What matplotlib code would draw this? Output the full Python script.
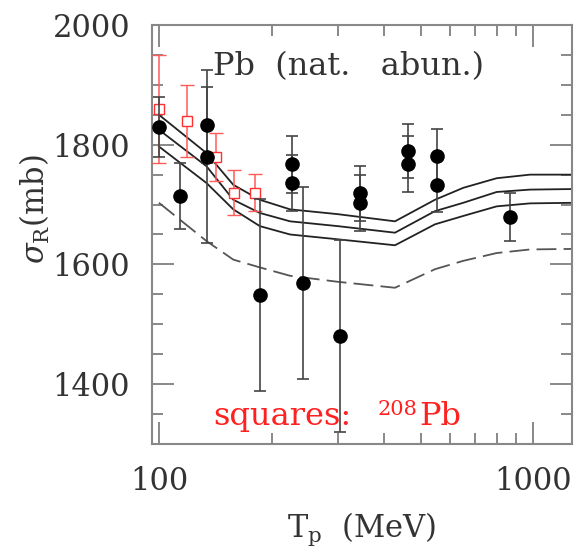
import matplotlib
matplotlib.use("Agg")
import matplotlib.pyplot as plt
from matplotlib.ticker import LogLocator, MultipleLocator, FuncFormatter, NullFormatter

# ── Data ───────────────────────────────────────────────────
# theory curves (solid band + dashed)
curve_x = [100, 134, 158, 186, 224, 300, 427, 546, 650, 798, 980, 1300]
curve_upper = [1850, 1786, 1733, 1708, 1692, 1684, 1672, 1708, 1728, 1744, 1750, 1750]
curve_mid = [1825, 1764, 1708, 1686, 1672, 1664, 1653, 1689, 1703, 1721, 1725, 1726]
curve_lower = [1797, 1736, 1692, 1664, 1650, 1642, 1632, 1667, 1681, 1697, 1702, 1703]
curve_dash = [1703, 1639, 1608, 1595, 1581, 1571, 1561, 1592, 1606, 1619, 1625, 1626]

# natural Pb data (filled circles)
nat_T = [100, 114, 134, 134, 186, 226, 226, 242, 305, 344, 344, 463, 463, 552, 552, 867]
nat_sig = [1830, 1715, 1833, 1780, 1549, 1767, 1736, 1569, 1480, 1719, 1703, 1789, 1768, 1781, 1732, 1679]
nat_err = [50, 55, 63, 144, 160, 48, 47, 160, 160, 46, 47, 45, 47, 45, 45, 40]

# 208Pb data (open squares)
pb208_T = [100, 119, 142, 158.6, 181]
pb208_sig = [1860, 1839, 1780, 1720, 1720]
pb208_err = [90, 60, 40, 38, 31]

# ── Style ──────────────────────────────────────────────────
plt.rcParams["font.family"] = "DejaVu Serif"
plt.rcParams["mathtext.fontset"] = "dejavuserif"
GRAY = "#888888"
TXT = "#333333"
RED = "#ff2020"

fig = plt.figure(figsize=(5.79, 5.52), dpi=100)
ax = fig.add_axes([0.263, 0.1957, 0.7244, 0.759])

# ── Curves ─────────────────────────────────────────────────
for c in (curve_upper, curve_mid, curve_lower):
    ax.plot(curve_x, c, color="#222222", lw=1.3, zorder=2)
ax.plot(curve_x, curve_dash, color="#555555", lw=1.3, dashes=(11, 4), zorder=2)

# ── Data points ────────────────────────────────────────────
ax.errorbar(pb208_T, pb208_sig, yerr=pb208_err, fmt="s", ms=6.5, mfc="white",
            mec="#ff3030", mew=1.0, ecolor="#ff5a5a", elinewidth=1.1,
            capsize=4.8, capthick=1.1, zorder=3)
ax.errorbar(nat_T, nat_sig, yerr=nat_err, fmt="o", ms=9.5, color="black",
            ecolor="#444444", elinewidth=1.2, capsize=4.3, capthick=1.2, zorder=4)

# ── Axes ───────────────────────────────────────────────────
ax.set_xscale("log")
ax.set_xlim(96, 1266)
ax.set_ylim(1300, 2000)

ax.xaxis.set_major_locator(LogLocator(base=10))
ax.xaxis.set_minor_locator(LogLocator(base=10, subs=range(2, 10)))
ax.xaxis.set_major_formatter(FuncFormatter(lambda v, p: f"{int(round(v))}"))
ax.xaxis.set_minor_formatter(NullFormatter())
ax.yaxis.set_major_locator(MultipleLocator(200))
ax.yaxis.set_minor_locator(MultipleLocator(50))

ax.tick_params(which="both", direction="in", top=True, right=True,
               color=GRAY, width=1.4, labelsize=22, labelcolor=TXT, pad=16)
ax.tick_params(which="major", length=16)
ax.tick_params(which="minor", length=8)
for s in ax.spines.values():
    s.set_color(GRAY)
    s.set_linewidth(1.5)

xl = ax.set_xlabel(r"T$_{\rm p}$  (MeV)", fontsize=22, color=TXT)
xl.set_ha("left")
ax.xaxis.set_label_coords(0.321, -0.16)
ax.set_ylabel(r"$\sigma_{\rm R}$(mb)", fontsize=22, color=TXT)
ax.yaxis.set_label_coords(-0.24, 0.56)

ax.text(0.1447, 0.8807, "Pb  (nat.   abun.)", transform=ax.transAxes,
        fontsize=23, color=TXT, va="baseline")
ax.text(0.1447, 0.045, "squares:", transform=ax.transAxes,
        fontsize=23, color=RED, va="baseline")
ax.text(0.538, 0.0692, "208", transform=ax.transAxes,
        fontsize=15, color=RED, va="baseline")
ax.text(0.636, 0.045, "Pb", transform=ax.transAxes,
        fontsize=23, color=RED, va="baseline")

fig.savefig("out.png", dpi=100)
